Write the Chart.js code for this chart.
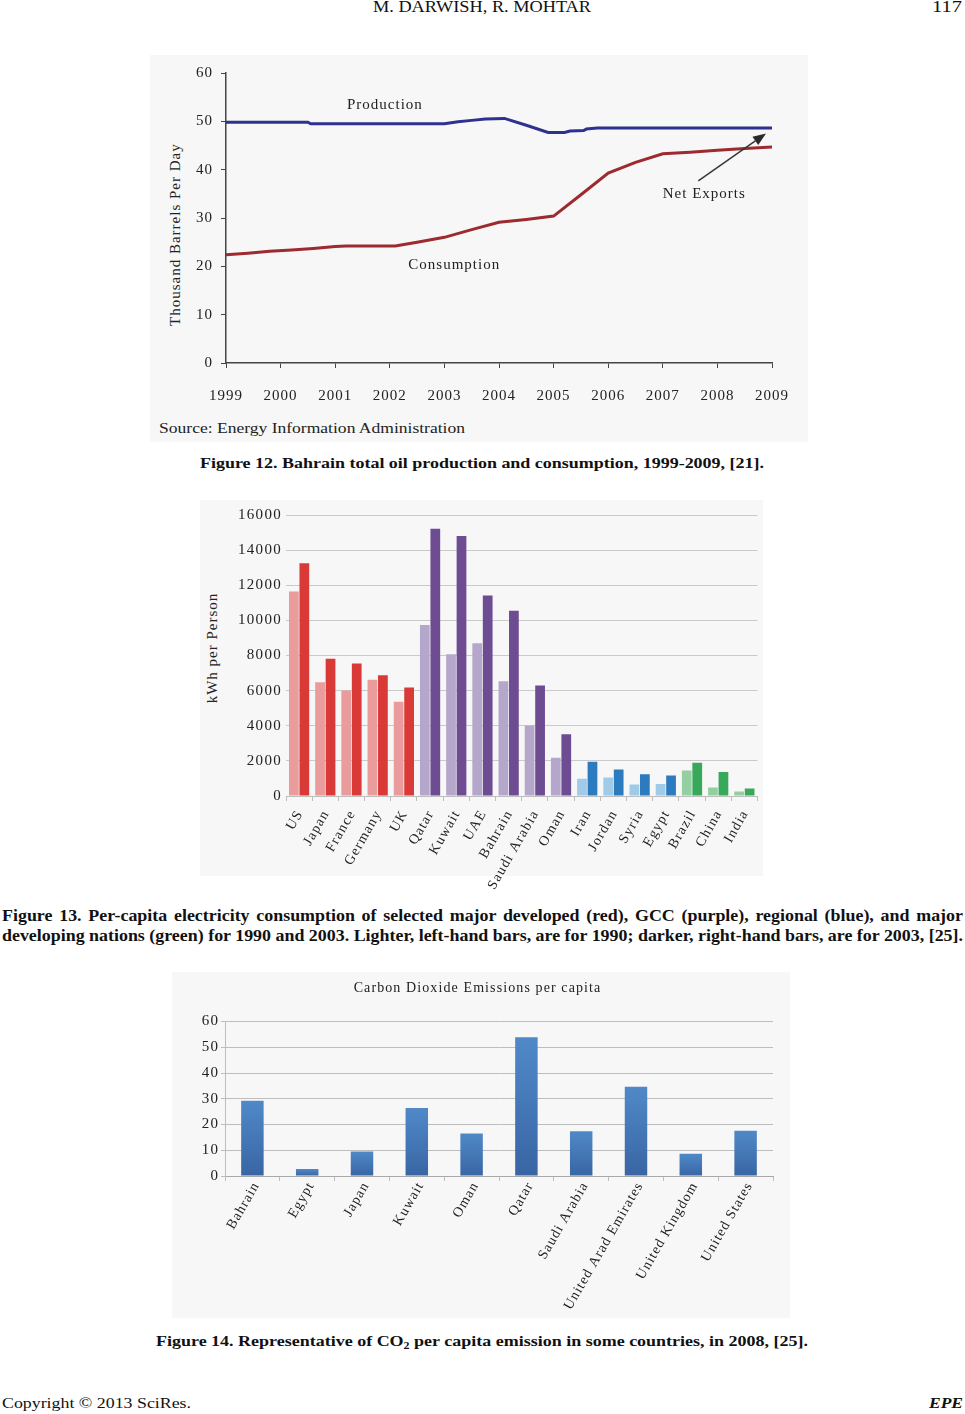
<!DOCTYPE html>
<html><head><meta charset="utf-8">
<script src="https://cdn.jsdelivr.net/npm/chart.js@4.4.1/dist/chart.umd.min.js"></script>
<style>
html,body{margin:0;padding:0;background:#fff;}
body{width:965px;height:1414px;position:relative;overflow:hidden;font-family:'Liberation Serif','Times New Roman',serif;color:#111;}
.t{position:absolute;white-space:nowrap;line-height:1;transform-origin:0 50%;display:inline-block;}
.b{font-weight:bold;}
.bg{position:absolute;background:#f7f7f7;}
canvas{position:absolute;}
.vt{position:absolute;white-space:nowrap;text-align:center;font-size:15px;letter-spacing:1px;color:#222;transform:rotate(-90deg);transform-origin:50% 50%;}
</style></head><body>

<div class="bg" style="left:150px;top:55px;width:658px;height:387px"></div>
<div class="bg" style="left:200px;top:500px;width:563px;height:376px"></div>
<div class="bg" style="left:172px;top:972px;width:618px;height:346px"></div>

<span class="t" data-x="373" data-y="8" data-w="218" data-s="16">M. DARWISH, R. MOHTAR</span>
<span class="t" data-x="932" data-y="8" data-w="30" data-s="16">117</span>
<span class="t" data-x="159" data-y="429" data-w="306" data-s="15" style="color:#222">Source: Energy Information Administration</span>
<span class="t b" data-x="200" data-y="464" data-w="564" data-s="15">Figure 12. Bahrain total oil production and consumption, 1999-2009, [21].</span>
<span class="t b" id="f13a" data-y="917" data-s="16">Figure 13. Per-capita electricity consumption of selected major developed (red), GCC (purple), regional (blue), and major</span>
<span class="t b" id="f13b" data-y="937" data-s="16">developing nations (green) for 1990 and 2003. Lighter, left-hand bars, are for 1990; darker, right-hand bars, are for 2003, [25].</span>
<span class="t b" data-x="156" data-y="1342" data-w="652" data-s="15">Figure 14. Representative of CO<span style="font-size:10px;vertical-align:-3px">2</span> per capita emission in some countries, in 2008, [25].</span>
<span class="t" data-x="2" data-y="1404" data-w="189" data-s="15">Copyright © 2013 SciRes.</span>
<span class="t b" data-x="929" data-y="1404" data-w="34" data-s="15" style="font-style:italic">EPE</span>

<div class="vt" style="left:85px;top:227px;width:180px;height:18px;line-height:18px">Thousand Barrels Per Day</div>
<div class="vt" style="left:152px;top:639px;width:120px;height:18px;line-height:18px">kWh per Person</div>

<canvas id="c1" width="658" height="385" style="left:150px;top:55px"></canvas>
<canvas id="c2" width="565" height="395" style="left:200px;top:500px"></canvas>
<canvas id="c3" width="621" height="346" style="left:182px;top:972px"></canvas>

<script>
// ---------- DATA ----------
// Figure 12
const yearTicks = [1999,2000,2001,2002,2003,2004,2005,2006,2007,2008,2009];
const prodYears  = [1999, 2000.5, 2000.55, 2003.0, 2003.25, 2003.5, 2003.75, 2004.1, 2004.5, 2004.9, 2005.2, 2005.3, 2005.55, 2005.6, 2005.8, 2009];
const prodValues = [49.8, 49.8, 49.5, 49.5, 49.9, 50.2, 50.5, 50.6, 49.2, 47.7, 47.7, 48.0, 48.1, 48.4, 48.6, 48.6];
const consYears  = [1999, 1999.4, 1999.8, 2000.2, 2000.6, 2001.0, 2001.2, 2002.1, 2002.5, 2003.0, 2003.5, 2004.0, 2004.5, 2005.0, 2005.5, 2006.0, 2006.5, 2007.0, 2007.5, 2008.0, 2008.5, 2009.0];
const consValues = [22.4, 22.7, 23.1, 23.4, 23.7, 24.1, 24.2, 24.2, 25.0, 26.0, 27.6, 29.1, 29.7, 30.4, 34.8, 39.3, 41.5, 43.3, 43.6, 44.0, 44.4, 44.7];
const seriesNames1 = ['Production','Consumption','Net Exports'];

// Figure 13
const countries = ['US','Japan','France','Germany','UK','Qatar','Kuwait','UAE','Bahrain','Saudi Arabia','Oman','Iran','Jordan','Syria','Egypt','Brazil','China','India'];
const groups = ['developed','developed','developed','developed','developed','gcc','gcc','gcc','gcc','gcc','gcc','regional','regional','regional','regional','developing','developing','developing'];
const kwh1990 = [11650, 6470, 6010, 6620, 5360, 9730, 8070, 8700, 6540, 4010, 2180, 980, 1050, 650, 690, 1450, 480, 250];
const kwh2003 = [13250, 7820, 7550, 6870, 6180, 15220, 14800, 11420, 10550, 6290, 3510, 1950, 1510, 1240, 1170, 1890, 1360, 420];

// Figure 14
const co2Countries = ['Bahrain','Egypt','Japan','Kuwait','Oman','Qatar','Saudi Arabia','United Arad Emirates','United Kingdom','United States'];
const co2Values = [29.2, 2.7, 9.5, 26.4, 16.5, 53.9, 17.4, 34.7, 8.6, 17.6];

// ---------- HTML text fitting ----------
document.querySelectorAll('.t').forEach(el=>{
  const s=+el.dataset.s; el.style.fontSize=s+'px';
  el.style.top=(+el.dataset.y - 0.55*s)+'px';
  if(el.dataset.x) el.style.left=el.dataset.x+'px';
});
document.querySelectorAll('.t[data-w]').forEach(el=>{
  const nat=el.getBoundingClientRect().width; el.style.transform='scaleX('+(+el.dataset.w/nat)+')';
});
(function(){
  const a=document.getElementById('f13a'), b=document.getElementById('f13b');
  const nat=b.getBoundingClientRect().width, sc=961/nat;
  [a,b].forEach(el=>{el.style.left='2px';el.style.width=nat+'px';el.style.textAlign='justify';el.style.textAlignLast='justify';el.style.whiteSpace='normal';el.style.transform='scaleX('+sc+')';});
})();

// ---------- Chart.js ----------
Chart.defaults.font.family="'Liberation Serif','Times New Roman',serif";
Chart.defaults.color='#222';
Chart.defaults.animation=false;
const spacing=(sp)=>({id:'spacing',beforeLayout(c){c.ctx.letterSpacing=sp;},beforeDraw(c){c.ctx.letterSpacing=sp;}});

// Figure 12 annotations (data coordinates)
const notes1=[{i:0,x:2001.91,y:53.4},{i:1,x:2003.18,y:20.3},{i:2,x:2007.76,y:35.0}];
const arrow1={x0:2007.65,y0:37.7,x1:2008.89,y1:47.5};
const annot1={id:'annot1',afterDatasetsDraw(c){
  const {ctx,scales:{x,y}}=c; ctx.save(); ctx.letterSpacing='1px';
  ctx.font="15px 'Liberation Serif',serif"; ctx.fillStyle='#222'; ctx.textAlign='center'; ctx.textBaseline='middle';
  notes1.forEach(n=>ctx.fillText(seriesNames1[n.i],x.getPixelForValue(n.x),y.getPixelForValue(n.y)));
  const ax=x.getPixelForValue(arrow1.x0), ay=y.getPixelForValue(arrow1.y0), bx=x.getPixelForValue(arrow1.x1), by=y.getPixelForValue(arrow1.y1);
  const dx=bx-ax, dy=by-ay, L=Math.hypot(dx,dy), ux=dx/L, uy=dy/L, hl=13, hw=5;
  ctx.strokeStyle='#3a3a3a'; ctx.lineWidth=1.6; ctx.beginPath(); ctx.moveTo(ax,ay); ctx.lineTo(bx-ux*hl,by-uy*hl); ctx.stroke();
  ctx.fillStyle='#2a2a2a'; ctx.beginPath(); ctx.moveTo(bx,by); ctx.lineTo(bx-ux*hl-uy*hw,by-uy*hl+ux*hw); ctx.lineTo(bx-ux*hl+uy*hw,by-uy*hl-ux*hw); ctx.closePath(); ctx.fill();
  ctx.restore();
}};

new Chart(document.getElementById('c1'),{
  type:'line',
  data:{datasets:[
    {label:seriesNames1[0],data:prodYears.map((v,i)=>({x:v,y:prodValues[i]})),borderColor:'#2f318f',borderWidth:3,pointRadius:0,tension:0},
    {label:seriesNames1[1],data:consYears.map((v,i)=>({x:v,y:consValues[i]})),borderColor:'#9c2a2e',borderWidth:3,pointRadius:0,tension:0}
  ]},
  options:{responsive:false,layout:{padding:{top:18,right:32,left:0,bottom:0}},
    plugins:{legend:{display:false},tooltip:{enabled:false}},
    scales:{
      x:{type:'linear',min:1999,max:2009,
        ticks:{stepSize:1,autoSkip:false,maxRotation:0,padding:19,font:{size:15},color:'#222',callback:(v)=>yearTicks.includes(v)?String(v):''},
        grid:{drawOnChartArea:false,drawTicks:true,tickLength:5,color:'#444'},
        border:{display:true,color:'#444',width:1.5},
        afterFit:s=>{s.height=77;}},
      y:{min:0,max:60,
        ticks:{stepSize:10,padding:8,font:{size:15},color:'#222'},
        grid:{drawOnChartArea:false,drawTicks:true,tickLength:5,color:'#444'},
        border:{display:true,color:'#444',width:1.5},
        afterFit:s=>{s.width=76;}}
    }},
  plugins:[spacing('1px'),annot1]
});

// Figure 13
const palette={developed:['#ea9b9b','#da3a37'],gcc:['#b4a7cb','#6e4c92'],regional:['#9fcbe8','#2c7bbf'],developing:['#93cfa1','#38a85a']};
new Chart(document.getElementById('c2'),{
  type:'bar',
  data:{labels:countries,datasets:[
    {label:'1990',data:kwh1990,backgroundColor:groups.map(g=>palette[g][0]),barPercentage:0.93,categoryPercentage:0.8},
    {label:'2003',data:kwh2003,backgroundColor:groups.map(g=>palette[g][1]),barPercentage:0.93,categoryPercentage:0.8}
  ]},
  options:{responsive:false,layout:{padding:{top:15,right:2,left:0,bottom:0}},
    plugins:{legend:{display:false},tooltip:{enabled:false}},
    scales:{
      x:{ticks:{autoSkip:false,minRotation:60,maxRotation:60,padding:6,labelOffset:1,font:{size:14},color:'#222'},
        grid:{offset:true,drawOnChartArea:false,drawTicks:true,tickLength:5,color:'#bdbdbd'},
        border:{display:true,color:'#bdbdbd'},
        afterFit:s=>{s.height=99;}},
      y:{min:0,max:16000,
        ticks:{stepSize:2000,padding:4,font:{size:15},color:'#222',callback:(v)=>String(v)},
        grid:{drawTicks:false,color:'#cacaca'},
        border:{display:false},
        afterFit:s=>{s.width=86;}}
    }},
  plugins:[spacing('1.3px')]
});

// Figure 14
const barGradient=(ctx)=>{
  const c=ctx.chart, a=c.chartArea; if(!a||ctx.raw===undefined) return '#4579b8';
  const y=c.scales.y, top=y.getPixelForValue(ctx.raw), base=y.getPixelForValue(0);
  const g=c.ctx.createLinearGradient(0,top,0,base); g.addColorStop(0,'#5089c8'); g.addColorStop(1,'#3965a4'); return g;
};
new Chart(document.getElementById('c3'),{
  type:'bar',
  data:{labels:co2Countries,datasets:[{label:'CO2',data:co2Values,backgroundColor:barGradient,barPercentage:0.41,categoryPercentage:1}]},
  options:{responsive:false,layout:{padding:{top:0,right:30,left:0,bottom:0}},
    plugins:{legend:{display:false},tooltip:{enabled:false},
      title:{display:true,text:'Carbon Dioxide Emissions per capita',font:{size:14,weight:'normal'},color:'#222',padding:{top:7.6,bottom:25.1}}},
    scales:{
      x:{ticks:{autoSkip:false,minRotation:60,maxRotation:60,padding:-2,labelOffset:4,font:{size:14},color:'#222'},
        grid:{offset:true,drawOnChartArea:false,drawTicks:true,tickLength:5,color:'#bdbdbd'},
        border:{display:true,color:'#a8a8a8'},
        afterFit:s=>{s.height=142;}},
      y:{min:0,max:60,
        ticks:{stepSize:10,padding:2,font:{size:15},color:'#222'},
        grid:{drawTicks:true,tickLength:4,color:'#bdbdbd'},
        border:{display:true,color:'#bdbdbd'},
        afterFit:s=>{s.width=43;}}
    }},
  plugins:[spacing('1.1px')]
});
</script>
</body></html>
